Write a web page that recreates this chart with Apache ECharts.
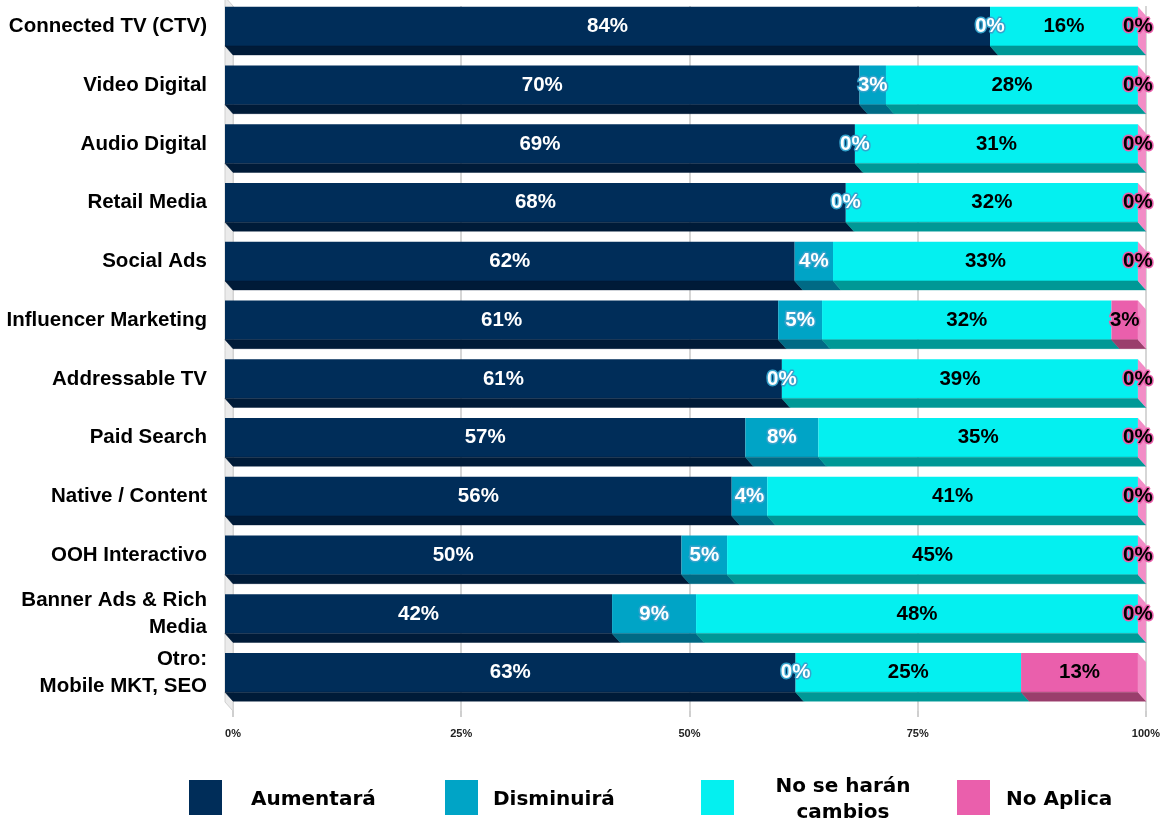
<!DOCTYPE html>
<html><head><meta charset="utf-8">
<script src="https://cdn.jsdelivr.net/npm/echarts/dist/echarts.min.js"></script>
<style>html,body{margin:0;padding:0;background:#fff}#c{width:1163px;height:822px}</style>
</head><body><div id="c"></div>
<script>
const categories = ['Connected TV (CTV)','Video Digital','Audio Digital','Retail Media','Social Ads','Influencer Marketing','Addressable TV','Paid Search','Native / Content','OOH Interactivo','Banner Ads & Rich\nMedia','Otro:\nMobile MKT, SEO'];
const aumentara   = [83.8, 69.5, 69.0, 68.0, 62.4, 60.6, 61.0, 57.0, 55.5, 50.0, 42.4, 62.5];
const disminuira  = [0,    2.9,  0,    0,    4.2,  4.8,  0,    8.0,  3.9,  5.0,  9.2,  0];
const sinCambios  = [16.2, 27.6, 31.0, 32.0, 33.4, 31.7, 39.0, 35.0, 40.6, 45.0, 48.4, 24.7];
const noAplica    = [0,    0,    0,    0,    0,    2.9,  0,    0,    0,    0,    0,    12.8];
const seriesNames = ['Aumentará','Disminuirá','No se harán cambios','No Aplica'];
const tickLabels  = ['0%','25%','50%','75%','100%'];

const valueSets = [aumentara, disminuira, sinCambios, noAplica];
const styles = [
  {front:'#002D59', bottom:'#001B38', text:'#ffffff', stroke:null},
  {front:'#00A4C6', bottom:'#006A85', text:'#ffffff', stroke:'#35A3CC'},
  {front:'#04F0F0', bottom:'#009896', text:'#000000', stroke:null},
  {front:'#EA5FAC', bottom:'#9A3E6C', side:'#F28CC6', text:'#000000', stroke:'#EA5FAC'}
];

// cumulative starts
const starts = valueSets.map(() => []);
categories.forEach((c, i) => {
  let acc = 0;
  valueSets.forEach((vs, s) => { starts[s][i] = acc; acc += vs[i]; });
});

const DX = 8, DY = 9;
function makeRender(sIdx) {
  const st = styles[sIdx];
  return function (params, api) {
    const start = api.value(0), val = api.value(1), cat = api.value(2);
    const a = api.coord([start, cat]), b = api.coord([start + val, cat]);
    const band = api.size([0, 1])[1];
    const h = band * 0.664;
    const x0 = a[0] - DX, x1 = b[0] - DX;
    const yt = a[1] - h / 2 - DY, yb = a[1] + h / 2 - DY;
    const children = [];
    if (sIdx === 0 && params.dataIndex === 0) {
      const cs = params.coordSys;
      children.push({type:'polygon', z2:-1, shape:{points:[[cs.x-DX, cs.y-DY],[cs.x, cs.y],[cs.x, cs.y+cs.height],[cs.x-DX, cs.y+cs.height-DY]]},
        style:{fill:'#EBEBEB', stroke:'#D0D0D0', lineWidth:1}});
    }
    if (val > 0) {
      children.push({type:'rect', z2:1, shape:{x:x0, y:yt, width:x1-x0, height:h}, style:{fill:st.front}});
      children.push({type:'polygon', z2:1, shape:{points:[[x0,yb],[x1,yb],[x1+DX,yb+DY],[x0+DX,yb+DY]]}, style:{fill:st.bottom, stroke:st.bottom, lineWidth:0.5}});
    }
    if (st.side) {
      children.push({type:'polygon', z2:2, shape:{points:[[x1,yt],[x1+DX,yt+DY],[x1+DX,yb+DY],[x1,yb]]}, style:{fill:st.side}});
    }
    const ts = {text: Math.round(val) + '%', x:(x0+x1)/2, y:(yt+yb)/2, align:'center', verticalAlign:'middle',
      fill: st.text, font:'bold 20.5px "Liberation Sans", Arial, sans-serif'};
    if (st.stroke) { ts.stroke = st.stroke; ts.lineWidth = 3; }
    children.push({type:'text', z2:100, style: ts});
    return {type:'group', children};
  };
}

const series = valueSets.map((vs, s) => ({
  name: seriesNames[s],
  type: 'custom',
  itemStyle: {color: styles[s].front},
  encode: {x: [0], y: 2},
  data: vs.map((v, i) => [starts[s][i], v, i]),
  renderItem: makeRender(s),
  clip: false
}));

const LF = '"DejaVu Sans", sans-serif';
const legendLefts = [184, 440, 696, 952];
const legendTops = [775, 775, 764, 775];
const legendPads = [24, 10, 36, 11];
const legends = seriesNames.map((n, i) => ({
  data:[{name:n, icon:'rect'}], left: legendLefts[i], top: legendTops[i], itemWidth:33, itemHeight:35,
  selectedMode:false,
  textStyle: {fontFamily:LF, fontWeight:'bold', fontSize:20, color:'#000', padding:[5,0,0,legendPads[i]], lineHeight:26,
    rich:{a:{width:136, align:'center', fontFamily:LF, fontWeight:'bold', fontSize:20, lineHeight:26, color:'#000'}}},
  formatter: i === 2 ? '{a|No se harán}\n{a|cambios}' : '{name}'
}));

const chart = echarts.init(document.getElementById('c'), null, {renderer:'canvas'});
chart.setOption({
  animation:false,
  backgroundColor:'#fff',
  grid:{left:233, right:15, top:6, bottom:111},
  xAxis:{type:'value', min:0, max:100, interval:25,
    axisLine:{show:false},
    axisTick:{show:true, length:6, lineStyle:{color:'#CFCFCF', width:2}},
    splitLine:{lineStyle:{color:'#D6D6D6', width:2}},
    axisLabel:{margin:17, formatter:(v) => tickLabels[Math.round(v/25)], fontFamily:'"Liberation Sans", Arial', fontWeight:'bold', fontSize:11, color:'#222'}},
  yAxis:{type:'category', inverse:true, data:categories,
    axisLine:{show:false}, axisTick:{show:false},
    axisLabel:{margin:26, interval:0, align:'right',
      formatter:(v) => v.split('\n').map(s => '{a|' + s + '}').join('\n') + '\n{g|}',
      rich:{a:{fontFamily:'"Liberation Sans", Arial', fontWeight:'bold', fontSize:20.5, color:'#000', lineHeight:27, align:'right'},
            g:{height:18, lineHeight:18, fontSize:1}}}},
  legend: legends,
  series
});
</script></body></html>
